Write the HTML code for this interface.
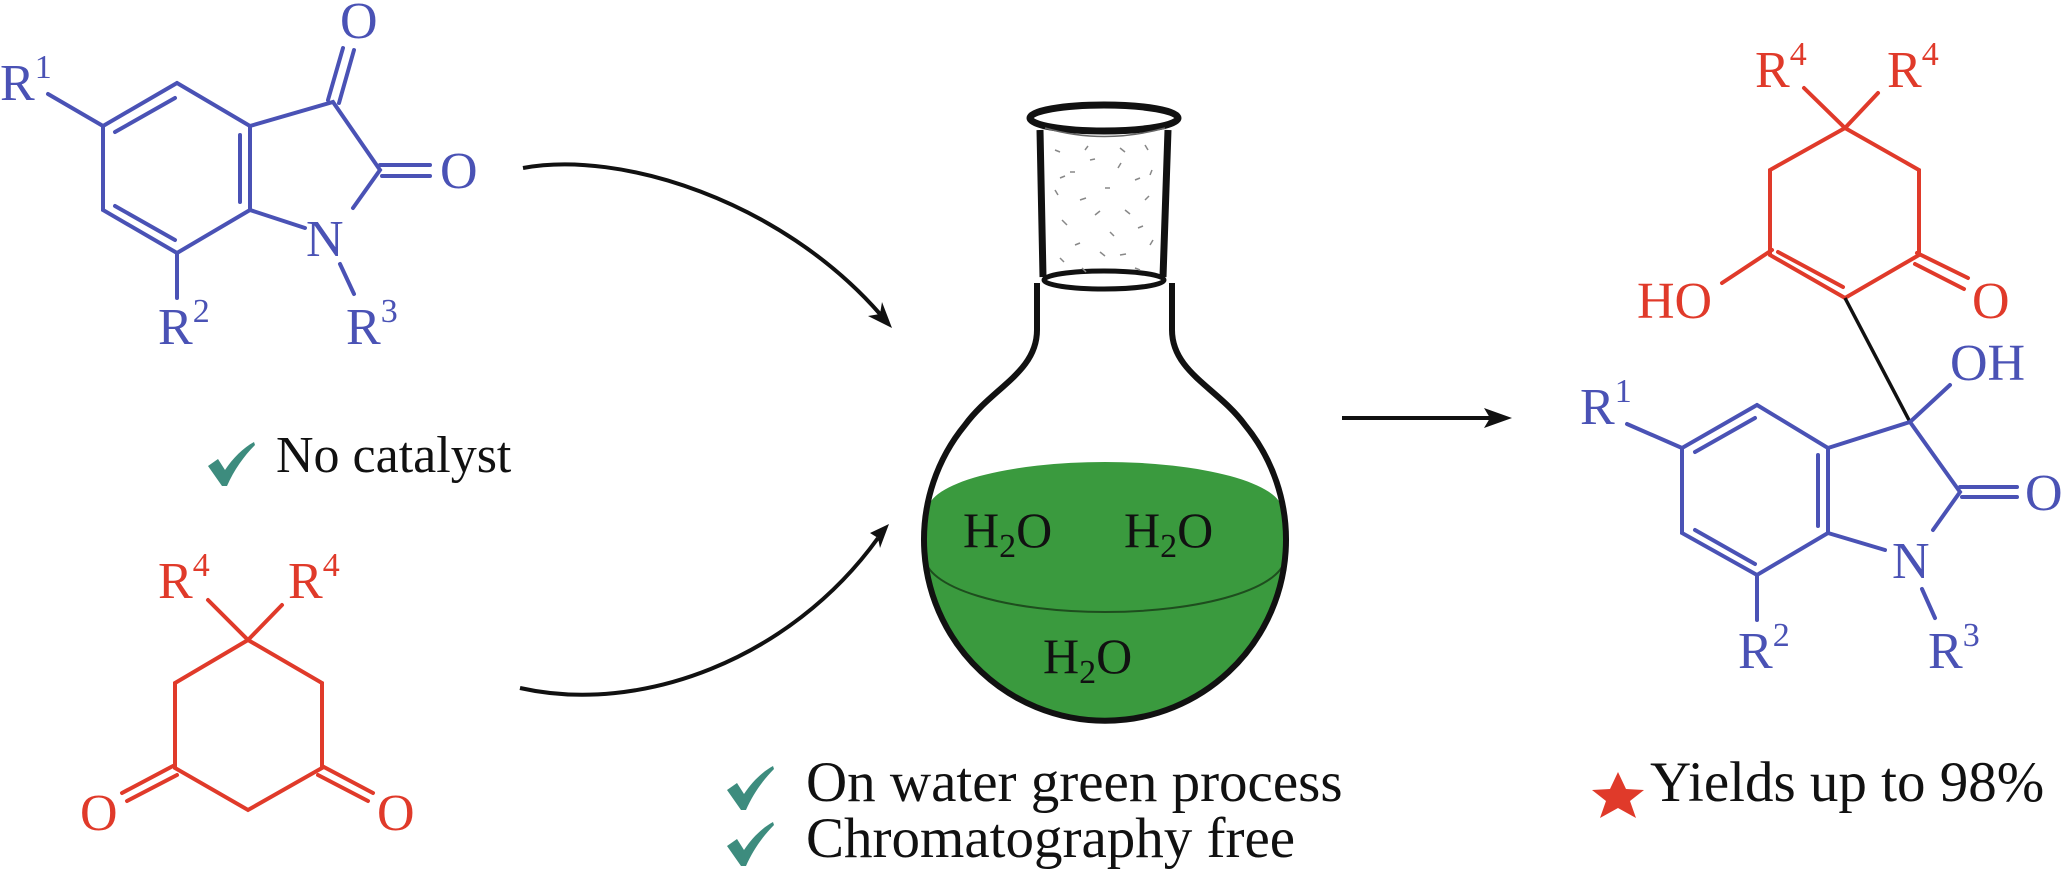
<!DOCTYPE html>
<html><head><meta charset="utf-8"><style>
html,body{margin:0;padding:0;background:#fff;}
svg{display:block;font-family:"Liberation Serif","DejaVu Serif",serif;}
svg text{font-family:"Liberation Serif","DejaVu Serif",serif;}
</style></head><body>
<svg width="2072" height="886" viewBox="0 0 2072 886" xmlns="http://www.w3.org/2000/svg" font-family="Liberation Serif, serif">
<defs>
<clipPath id="bulb"><circle cx="1105" cy="542" r="179"/></clipPath>
<path id="chk" d="M0,24 L10,17 L17,28 C25,16 35,6 46,0 L47,3 C36,14 26,28 19,44 L14,44 Z"/>
</defs>

<!-- Left isatin (blue) -->
<g stroke="#4a52b5" stroke-width="4" fill="none" stroke-linecap="round">
<polyline points="177,83 103,126 103,210 177,253 250,210 250,126 177,83"/>
<line x1="115" y1="132" x2="175" y2="98"/>
<line x1="115" y1="206" x2="175" y2="240"/>
<line x1="240" y1="135" x2="240" y2="202"/>
<polyline points="250,126 333,102 380,170 353,208"/>
<line x1="250" y1="210" x2="305" y2="228"/>
<line x1="328" y1="100" x2="343" y2="48"/>
<line x1="339" y1="103" x2="354" y2="50"/>
<line x1="380" y1="165" x2="430" y2="165"/>
<line x1="382" y1="176" x2="430" y2="176"/>
<line x1="48" y1="94" x2="103" y2="126"/>
<line x1="177" y1="253" x2="177" y2="298"/>
<line x1="340" y1="264" x2="354" y2="294"/>
</g>
<g fill="#4a52b5" font-size="52" font-family="Liberation Serif, serif">
<text x="340" y="38">O</text>
<text x="440" y="188">O</text>
<text x="306" y="256">N</text>
<text x="0" y="100">R<tspan font-size="34" dy="-22">1</tspan></text>
<text x="158" y="344">R<tspan font-size="34" dy="-22">2</tspan></text>
<text x="346" y="344">R<tspan font-size="34" dy="-22">3</tspan></text>
</g>

<!-- No catalyst -->
<use href="#chk" transform="translate(208,442)" fill="#3d8c7e"/>
<text x="276" y="472" font-size="52" fill="#111" font-family="Liberation Serif, serif">No catalyst</text>

<!-- Dimedone (red) -->
<g stroke="#e03a2a" stroke-width="4" fill="none" stroke-linecap="round">
<polyline points="248,640 175,683 175,768 248,810 322,768 322,683 248,640"/>
<line x1="248" y1="640" x2="208" y2="600"/>
<line x1="248" y1="640" x2="282" y2="605"/>
<line x1="173" y1="766" x2="122" y2="793"/>
<line x1="177" y1="775" x2="127" y2="801"/>
<line x1="322" y1="766" x2="373" y2="793"/>
<line x1="318" y1="775" x2="368" y2="801"/>
</g>
<g fill="#e03a2a" font-size="52" font-family="Liberation Serif, serif">
<text x="158" y="598">R<tspan font-size="34" dy="-22">4</tspan></text>
<text x="288" y="598">R<tspan font-size="34" dy="-22">4</tspan></text>
<text x="80" y="830">O</text>
<text x="377" y="830">O</text>
</g>

<!-- Curved arrows -->
<g stroke="#111" stroke-width="4" fill="none">
<path d="M523,168 C620,150 780,200 880,314"/>
<path d="M520,688 C640,715 790,660 878,538"/>
<line x1="1342" y1="418" x2="1490" y2="418"/>
</g>
<polygon points="892,328 868,316 880,314 882,302" fill="#111"/>
<polygon points="889,524 870,533 878,538 880,548" fill="#111"/>
<polygon points="1512,418 1484,408 1490,418 1484,428" fill="#111"/>

<!-- Flask -->
<g clip-path="url(#bulb)">
<path d="M900,510 L928,510 A177,48 0 0 1 1282,510 L1310,510 L1310,740 L900,740 Z" fill="#3a9a3e"/>
</g>
<path d="M925,557 A180,55 0 0 0 1285,557" stroke="#1e4d1e" stroke-width="2" fill="none"/>
<path d="M1037,283 L1037,330 C1037,372 992,388 965,425 A181,181 0 1 0 1245,425 C1218,388 1172,372 1172,330 L1172,283" stroke="#111" stroke-width="6" fill="none"/>
<path d="M1040,130 L1043,277 M1168,130 L1163,277" stroke="#111" stroke-width="7" fill="none"/>
<ellipse cx="1104" cy="280" rx="60" ry="9" stroke="#111" stroke-width="5" fill="none"/>
<ellipse cx="1104" cy="118" rx="74" ry="13" stroke="#111" stroke-width="7" fill="#fff"/>
<path d="M1045,128 Q1104,145 1165,128" stroke="#666" stroke-width="1.5" fill="none"/>
<g stroke="#888" stroke-width="1.5">
<line x1="1055" y1="150" x2="1060" y2="152"/><line x1="1085" y1="150" x2="1088" y2="146"/><line x1="1120" y1="148" x2="1125" y2="152"/><line x1="1145" y1="145" x2="1148" y2="150"/>
<line x1="1090" y1="160" x2="1095" y2="159"/><line x1="1118" y1="168" x2="1121" y2="163"/><line x1="1060" y1="178" x2="1065" y2="176"/><line x1="1070" y1="172" x2="1075" y2="172"/>
<line x1="1135" y1="180" x2="1140" y2="178"/><line x1="1150" y1="175" x2="1152" y2="170"/><line x1="1055" y1="190" x2="1058" y2="195"/><line x1="1080" y1="200" x2="1086" y2="198"/>
<line x1="1105" y1="188" x2="1110" y2="188"/><line x1="1125" y1="210" x2="1130" y2="214"/><line x1="1145" y1="200" x2="1149" y2="196"/><line x1="1062" y1="220" x2="1067" y2="225"/>
<line x1="1095" y1="215" x2="1100" y2="211"/><line x1="1110" y1="232" x2="1114" y2="236"/><line x1="1138" y1="228" x2="1143" y2="226"/><line x1="1075" y1="245" x2="1080" y2="243"/>
<line x1="1100" y1="252" x2="1105" y2="256"/><line x1="1150" y1="245" x2="1153" y2="240"/><line x1="1060" y1="258" x2="1064" y2="262"/><line x1="1120" y1="255" x2="1126" y2="254"/>
<line x1="1082" y1="268" x2="1086" y2="272"/><line x1="1135" y1="268" x2="1140" y2="270"/>
</g>
<g fill="#111" font-size="50" font-family="Liberation Serif, serif">
<text x="963" y="547">H<tspan font-size="34" dy="10">2</tspan><tspan dy="-10">O</tspan></text>
<text x="1124" y="547">H<tspan font-size="34" dy="10">2</tspan><tspan dy="-10">O</tspan></text>
<text x="1043" y="673">H<tspan font-size="34" dy="10">2</tspan><tspan dy="-10">O</tspan></text>
</g>

<!-- Bottom center texts -->
<use href="#chk" transform="translate(727,766)" fill="#3d8c7e"/>
<use href="#chk" transform="translate(727,822)" fill="#3d8c7e"/>
<g font-family="Liberation Serif, serif" fill="#111" font-size="57">
<text x="806" y="801">On water green process</text>
<text x="806" y="857">Chromatography free</text>
<text x="1650" y="801">Yields up to 98%</text>
</g>

<!-- Star -->
<polygon points="1618,772 1626,789 1644,790 1630,801 1636,818 1618,808 1600,818 1606,801 1592,790 1610,789" fill="#e03a2a"/>

<!-- Product red part -->
<g stroke="#e03a2a" stroke-width="4" fill="none" stroke-linecap="round">
<polyline points="1845,128 1770,170 1770,255 1845,298 1919,255 1919,170 1845,128"/>
<line x1="1845" y1="128" x2="1804" y2="88"/>
<line x1="1845" y1="128" x2="1878" y2="93"/>
<line x1="1772" y1="250" x2="1722" y2="283"/>
<line x1="1778" y1="252" x2="1843" y2="287"/>
<line x1="1917" y1="253" x2="1968" y2="278"/>
<line x1="1915" y1="264" x2="1964" y2="289"/>
</g>
<g fill="#e03a2a" font-size="52" font-family="Liberation Serif, serif">
<text x="1755" y="87">R<tspan font-size="34" dy="-22">4</tspan></text>
<text x="1887" y="87">R<tspan font-size="34" dy="-22">4</tspan></text>
<text x="1637" y="318">HO</text>
<text x="1972" y="318">O</text>
</g>
<line x1="1845" y1="298" x2="1910" y2="422" stroke="#111" stroke-width="3.5"/>

<!-- Product blue part -->
<g stroke="#4a52b5" stroke-width="4" fill="none" stroke-linecap="round">
<polyline points="1757,405 1682,448 1682,533 1757,575 1828,533 1828,448 1757,405"/>
<line x1="1695" y1="452" x2="1755" y2="418"/>
<line x1="1695" y1="530" x2="1755" y2="564"/>
<line x1="1818" y1="455" x2="1818" y2="526"/>
<polyline points="1828,448 1910,422 1960,492 1933,530"/>
<line x1="1828" y1="533" x2="1885" y2="550"/>
<line x1="1960" y1="487" x2="2017" y2="487"/>
<line x1="1962" y1="497" x2="2017" y2="497"/>
<line x1="1910" y1="422" x2="1950" y2="385"/>
<line x1="1627" y1="424" x2="1682" y2="448"/>
<line x1="1757" y1="575" x2="1757" y2="620"/>
<line x1="1922" y1="589" x2="1935" y2="618"/>
</g>
<g fill="#4a52b5" font-size="52" font-family="Liberation Serif, serif">
<text x="1950" y="380">OH</text>
<text x="1580" y="424">R<tspan font-size="34" dy="-22">1</tspan></text>
<text x="2025" y="510">O</text>
<text x="1892" y="578">N</text>
<text x="1738" y="668">R<tspan font-size="34" dy="-22">2</tspan></text>
<text x="1928" y="668">R<tspan font-size="34" dy="-22">3</tspan></text>
</g>
</svg>
</body></html>
